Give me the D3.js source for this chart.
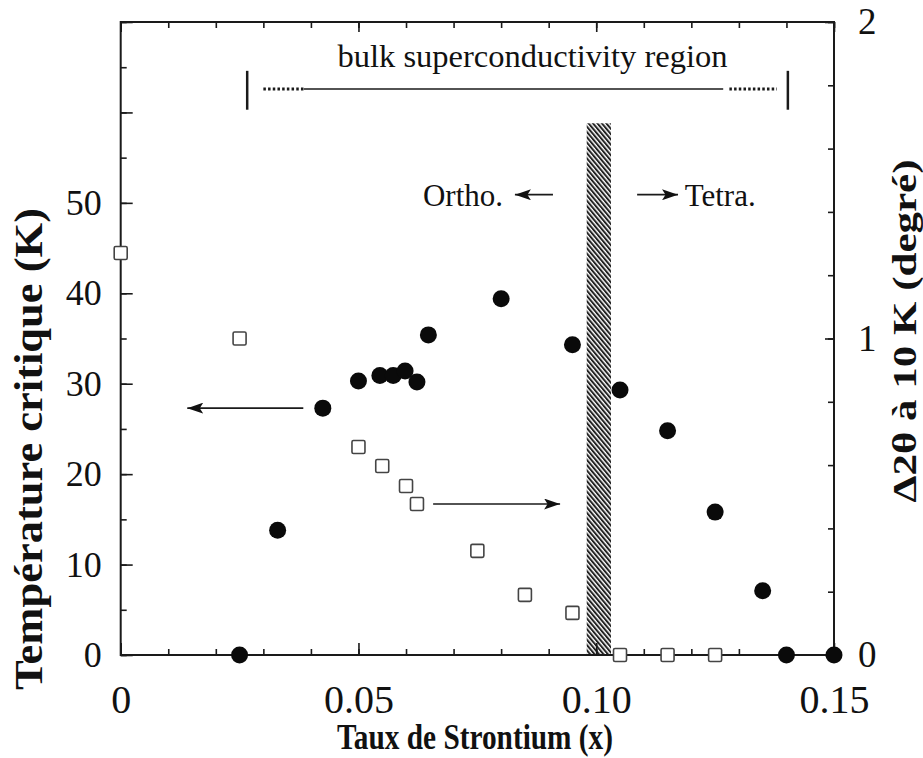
<!DOCTYPE html>
<html>
<head>
<meta charset="utf-8">
<script src="https://cdn.jsdelivr.net/npm/d3@7"></script>
<style>
  html, body { margin: 0; padding: 0; background: #fff; }
  svg { display: block; }
  text { font-family: "Liberation Serif", "Times New Roman", serif; fill: #111; }
</style>
</head>
<body>
<div id="chart"></div>
<script>
// ---- data ----
// Critical temperature Tc (K) vs Sr content x (filled circles, left axis)
const tcX = [0.025, 0.033, 0.0425, 0.050, 0.0545, 0.0573, 0.0598, 0.0623, 0.0647, 0.080, 0.095, 0.105, 0.115, 0.125, 0.135, 0.140, 0.150];
const tcY = [0, 13.8, 27.3, 30.3, 30.9, 30.9, 31.4, 30.2, 35.4, 39.4, 34.3, 29.3, 24.8, 15.8, 7.1, 0, 0];
// Δ2θ at 10 K (degrees) vs x (open squares, right axis)
const dX = [0, 0.025, 0.050, 0.055, 0.060, 0.0623, 0.075, 0.085, 0.095, 0.105, 0.115, 0.125];
const dY = [1.27, 1.0, 0.657, 0.597, 0.534, 0.477, 0.329, 0.19, 0.133, 0, 0, 0];
// tick labels
const xTickVals = [0, 0.05, 0.10, 0.15];
const xTickLabels = ["0", "0.05", "0.10", "0.15"];
const yLeftTickVals = [0, 10, 20, 30, 40, 50];
const yRightTickVals = [0, 1, 2];
// annotations (data units)
const bulkRegion = { x0: 0.0266, x1: 0.1403, dot1: [0.030, 0.0385], solid: [0.0385, 0.1267], dot2: [0.128, 0.138], y: 62.6, yTop: 64.6, yBot: 60.3 };
const transition = { x0: 0.098, x1: 0.1031, yTop: 58.8 };

// ---- layout ----
const W = 923, H = 758;
const svg = d3.select("#chart").append("svg").attr("width", W).attr("height", H);
svg.append("rect").attr("width", W).attr("height", H).attr("fill", "#fff");

const x = d3.scaleLinear().domain([0, 0.15]).range([120.7, 834]);
const yL = d3.scaleLinear().domain([0, 70]).range([655, 22]);
const yR = d3.scaleLinear().domain([0, 2]).range([655, 22]);

const defs = svg.append("defs");
const pat = defs.append("pattern").attr("id", "hatch").attr("patternUnits", "userSpaceOnUse")
  .attr("width", 3.4).attr("height", 10).attr("patternTransform", "rotate(-40)");
pat.append("rect").attr("width", 3.4).attr("height", 10).attr("fill", "#fff");
pat.append("line").attr("x1", 1).attr("y1", 0).attr("x2", 1).attr("y2", 10)
  .attr("stroke", "#222").attr("stroke-width", 2);

defs.append("marker").attr("id", "arrow").attr("viewBox", "0 0 16 11")
  .attr("refX", 16).attr("refY", 5.5).attr("markerWidth", 16).attr("markerHeight", 11)
  .attr("markerUnits", "userSpaceOnUse").attr("orient", "auto")
  .append("path").attr("d", "M0,0 L16,5.5 L0,11 L3.5,5.5 Z").attr("fill", "#111");

const ink = "#1a1a1a";

// hatched transition band
svg.append("rect")
  .attr("x", x(transition.x0)).attr("y", yL(transition.yTop))
  .attr("width", x(transition.x1) - x(transition.x0))
  .attr("height", yL(0) - yL(transition.yTop))
  .attr("fill", "url(#hatch)");

// ---- axes ----
function styleAxis(g) {
  g.select(".domain").remove();
  g.selectAll(".tick line").attr("stroke", ink).attr("stroke-width", 1.6);
  g.selectAll(".tick text").attr("fill", "#111").attr("font-family", "Liberation Serif, serif");
}
const minorX = d3.range(0, 0.1501, 0.01);
// bottom
svg.append("g").attr("transform", "translate(0,655)")
  .call(d3.axisBottom(x).tickValues(minorX).tickSize(-6).tickFormat(""))
  .call(styleAxis);
svg.append("g").attr("transform", "translate(0,655)")
  .call(d3.axisBottom(x).tickValues(xTickVals).tickSize(-12).tickPadding(30)
        .tickFormat((d, i) => xTickLabels[i]))
  .call(styleAxis)
  .call(g => g.selectAll(".tick text").attr("font-size", 40));
// top
svg.append("g").attr("transform", "translate(0,22)")
  .call(d3.axisTop(x).tickValues(minorX).tickSize(-6).tickFormat(""))
  .call(styleAxis);
svg.append("g").attr("transform", "translate(0,22)")
  .call(d3.axisTop(x).tickValues(xTickVals).tickSize(-10).tickFormat(""))
  .call(styleAxis);
// left
svg.append("g").attr("transform", "translate(120.7,0)")
  .call(d3.axisLeft(yL).tickValues(d3.range(0, 70.1, 5)).tickSize(-6).tickFormat(""))
  .call(styleAxis);
svg.append("g").attr("transform", "translate(120.7,0)")
  .call(d3.axisLeft(yL).tickValues(d3.range(0, 70.1, 10)).tickSize(-12)
        .tickPadding(19).tickFormat(d => yLeftTickVals.includes(d) ? d : ""))
  .call(styleAxis)
  .call(g => g.selectAll(".tick text").attr("font-size", 36));
// right
svg.append("g").attr("transform", "translate(834,0)")
  .call(d3.axisRight(yR).tickValues(d3.range(0, 2.01, 0.2)).tickSize(-6).tickFormat(""))
  .call(styleAxis);
svg.append("g").attr("transform", "translate(834,0)")
  .call(d3.axisRight(yR).tickValues(yRightTickVals).tickSize(-9).tickPadding(24).tickFormat(d3.format("d")))
  .call(styleAxis)
  .call(g => g.selectAll(".tick text").attr("font-size", 37));

// frame
svg.append("rect").attr("x", 120.7).attr("y", 22).attr("width", 834 - 120.7).attr("height", 633)
  .attr("fill", "none").attr("stroke", ink).attr("stroke-width", 2);

// ---- bulk superconductivity region annotation ----
const br = svg.append("g").attr("stroke", ink);
br.append("line").attr("x1", x(bulkRegion.x0)).attr("x2", x(bulkRegion.x0))
  .attr("y1", yL(bulkRegion.yTop)).attr("y2", yL(bulkRegion.yBot)).attr("stroke-width", 2.5);
br.append("line").attr("x1", x(bulkRegion.x1)).attr("x2", x(bulkRegion.x1))
  .attr("y1", yL(bulkRegion.yTop)).attr("y2", yL(bulkRegion.yBot)).attr("stroke-width", 2.5);
br.append("line").attr("x1", x(bulkRegion.dot1[0])).attr("x2", x(bulkRegion.dot1[1]))
  .attr("y1", yL(bulkRegion.y)).attr("y2", yL(bulkRegion.y)).attr("stroke-width", 3).attr("stroke-dasharray", "2.5,2.2");
br.append("line").attr("x1", x(bulkRegion.solid[0])).attr("x2", x(bulkRegion.solid[1]))
  .attr("y1", yL(bulkRegion.y)).attr("y2", yL(bulkRegion.y)).attr("stroke-width", 1.5);
br.append("line").attr("x1", x(bulkRegion.dot2[0])).attr("x2", x(bulkRegion.dot2[1]))
  .attr("y1", yL(bulkRegion.y)).attr("y2", yL(bulkRegion.y)).attr("stroke-width", 3).attr("stroke-dasharray", "2.5,2.2");
svg.append("text").attr("x", (x(bulkRegion.x0) + x(bulkRegion.x1)) / 2 + 15).attr("y", 67)
  .attr("text-anchor", "middle").attr("font-size", 31)
  .attr("textLength", 390).attr("lengthAdjust", "spacingAndGlyphs")
  .text("bulk superconductivity region");

// ---- Ortho / Tetra ----
svg.append("text").attr("x", 503).attr("y", yL(50.9)).attr("dy", "0.35em")
  .attr("text-anchor", "end").attr("font-size", 31).text("Ortho.");
svg.append("line").attr("x1", x(0.0909)).attr("x2", x(0.0829))
  .attr("y1", yL(50.9)).attr("y2", yL(50.9)).attr("stroke", ink).attr("stroke-width", 1.8)
  .attr("marker-end", "url(#arrow)");
svg.append("line").attr("x1", x(0.1086)).attr("x2", x(0.1172))
  .attr("y1", yL(50.9)).attr("y2", yL(50.9)).attr("stroke", ink).attr("stroke-width", 1.8)
  .attr("marker-end", "url(#arrow)");
svg.append("text").attr("x", x(0.1186)).attr("y", yL(50.9)).attr("dy", "0.35em")
  .attr("text-anchor", "start").attr("font-size", 31).text("Tetra.");

// ---- series arrows ----
svg.append("line").attr("x1", x(0.0384)).attr("x2", x(0.014))
  .attr("y1", yL(27.3)).attr("y2", yL(27.3)).attr("stroke", ink).attr("stroke-width", 1.6)
  .attr("marker-end", "url(#arrow)");
svg.append("line").attr("x1", x(0.0657)).attr("x2", x(0.0924))
  .attr("y1", yR(0.477)).attr("y2", yR(0.477)).attr("stroke", ink).attr("stroke-width", 1.6)
  .attr("marker-end", "url(#arrow)");

// ---- data marks ----
const sq = 13;
svg.append("g").selectAll("rect").data(dX.map((v, i) => [v, dY[i]])).join("rect")
  .attr("x", d => x(d[0]) - sq / 2).attr("y", d => yR(d[1]) - sq / 2)
  .attr("width", sq).attr("height", sq).attr("rx", 1.5)
  .attr("fill", "#fff").attr("stroke", "#444").attr("stroke-width", 1.6);
svg.append("g").selectAll("circle").data(tcX.map((v, i) => [v, tcY[i]])).join("circle")
  .attr("cx", d => x(d[0])).attr("cy", d => yL(d[1])).attr("r", 8.5).attr("fill", "#0a0a0a");

// ---- axis titles ----
svg.append("text").attr("x", 475).attr("y", 749).attr("text-anchor", "middle")
  .attr("font-size", 35).attr("font-weight", "bold")
  .attr("textLength", 276).attr("lengthAdjust", "spacingAndGlyphs")
  .text("Taux de Strontium (x)");
svg.append("text").attr("transform", "translate(42,449) rotate(-90)").attr("text-anchor", "middle")
  .attr("font-size", 39).attr("font-weight", "bold")
  .attr("textLength", 482).attr("lengthAdjust", "spacingAndGlyphs")
  .text("Température critique (K)");
svg.append("text").attr("transform", "translate(916,331) rotate(-90)").attr("text-anchor", "middle")
  .attr("font-size", 34).attr("font-weight", "bold")
  .attr("textLength", 343).attr("lengthAdjust", "spacingAndGlyphs")
  .text("Δ2θ à 10 K (degré)");
</script>
</body>
</html>
